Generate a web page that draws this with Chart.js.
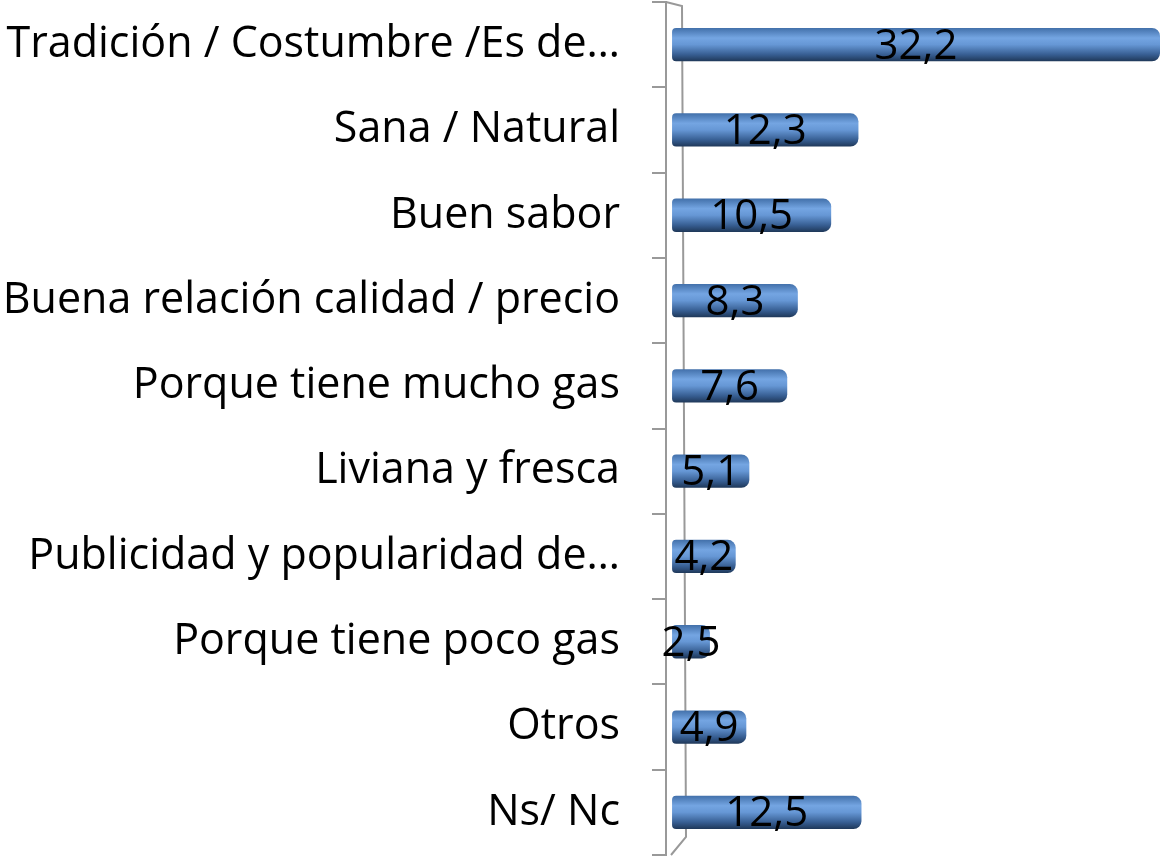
<!DOCTYPE html>
<html>
<head>
<meta charset="utf-8">
<script src="https://cdn.jsdelivr.net/npm/chart.js@4.4.1/dist/chart.umd.min.js"></script>
<style>
  html, body { margin: 0; padding: 0; background: #fff; }
  #wrap { width: 1161px; height: 857px; }
</style>
</head>
<body>
<div id="wrap"><canvas id="chartCanvas"></canvas></div>
<script>
// Categories and values
const categories = [
    'Tradición / Costumbre /Es de…',
    'Sana / Natural',
    'Buen sabor',
    'Buena relación calidad / precio',
    'Porque tiene mucho gas',
    'Liviana y fresca',
    'Publicidad y popularidad de…',
    'Porque tiene poco gas',
    'Otros',
    'Ns/ Nc'
];
const values = [32.2, 12.3, 10.5, 8.3, 7.6, 5.1, 4.2, 2.5, 4.9, 12.5];

const FONT = '"Open Sans", "Noto Sans", sans-serif';

// Cylinder-ish shading, built from the bar's own band on the y scale
function barGradient(context) {
    const chart = context.chart;
    const yScale = chart.scales.y;
    if (!yScale || context.dataIndex === undefined) return '#4f81bd';
    const center = yScale.getPixelForValue(context.dataIndex);
    const half = yScale.height / categories.length * 0.39 / 2;
    if (!isFinite(center) || !isFinite(half) || half <= 0) return '#4f81bd';
    const g = chart.ctx.createLinearGradient(0, center - half, 0, center + half);
    g.addColorStop(0, '#4270aa');
    g.addColorStop(0.3, '#74a5e2');
    g.addColorStop(0.5, '#6697d5');
    g.addColorStop(0.8, '#375e92');
    g.addColorStop(1, '#1f3859');
    return g;
}

// Value labels in the middle of each bar
const valueLabels = {
    id: 'valueLabels',
    afterDatasetsDraw(chart) {
        const ctx = chart.ctx;
        const meta = chart.getDatasetMeta(0);
        ctx.save();
        ctx.font = '42px ' + FONT;
        ctx.fillStyle = '#000';
        ctx.textAlign = 'center';
        ctx.textBaseline = 'middle';
        meta.data.forEach((bar, i) => {
            const x = (bar.base + bar.x) / 2;
            ctx.fillText(values[i].toFixed(1).replace('.', ','), x, bar.y + 2);
        });
        ctx.restore();
    }
};

// Back edge of the 3D wall next to the category axis
const wallEdge = {
    id: 'wallEdge',
    beforeDatasetsDraw(chart) {
        const a = chart.chartArea;
        const ctx = chart.ctx;
        ctx.save();
        ctx.strokeStyle = '#999';
        ctx.lineWidth = 2;
        ctx.beginPath();
        ctx.moveTo(a.left, a.top);
        ctx.lineTo(a.left + 16, a.top + 4);
        ctx.lineTo(a.left + 20, a.bottom - 18);
        ctx.lineTo(a.left + 5, a.bottom);
        ctx.stroke();
        ctx.restore();
    }
};

new Chart(document.getElementById('chartCanvas'), {
    type: 'bar',
    data: {
        labels: categories,
        datasets: [{
            data: values,
            backgroundColor: barGradient,
            borderWidth: 0,
            borderRadius: { topRight: 8, bottomRight: 8, topLeft: 4, bottomLeft: 4 },
            borderSkipped: false,
            barPercentage: 0.39,
            categoryPercentage: 1
        }]
    },
    options: {
        indexAxis: 'y',
        responsive: true,
        maintainAspectRatio: false,
        animation: false,
        layout: { padding: { top: 2, bottom: 2, left: 0, right: 1 } },
        plugins: {
            legend: { display: false },
            tooltip: { enabled: false }
        },
        scales: {
            x: {
                display: false,
                min: -0.4,
                max: 32.2
            },
            y: {
                afterFit(scale) {
                    scale.width = 666;
                    scale.paddingTop = 0;
                    scale.paddingBottom = 0;
                },
                border: { display: true, color: '#999', width: 2 },
                grid: {
                    drawOnChartArea: false,
                    drawTicks: true,
                    tickLength: 14,
                    color: '#999',
                    lineWidth: 2
                },
                ticks: {
                    color: '#000',
                    padding: 32,
                    autoSkip: false,
                    font: { family: FONT, size: 43 }
                }
            }
        }
    },
    plugins: [valueLabels, wallEdge]
});
</script>
</body>
</html>
